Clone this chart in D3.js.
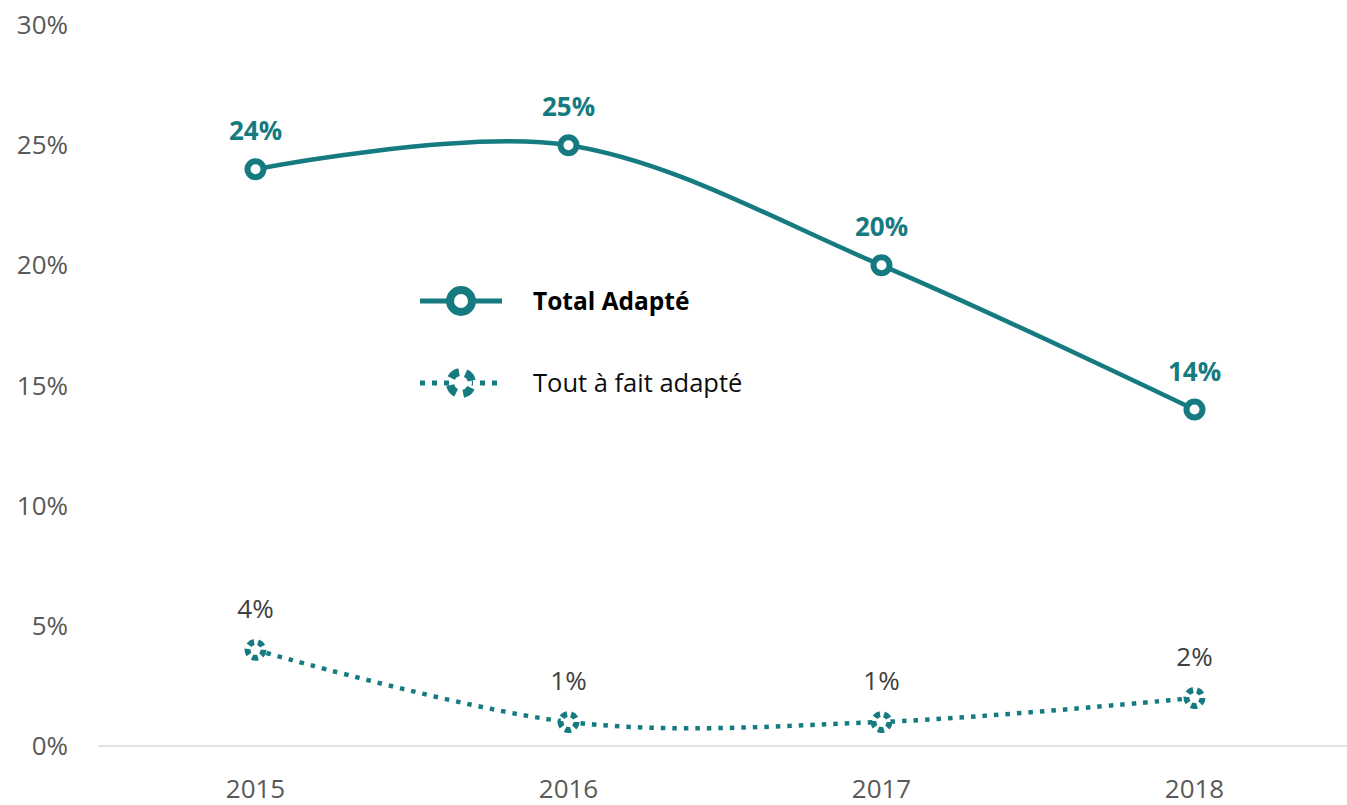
<!DOCTYPE html>
<html>
<head>
<meta charset="utf-8">
<script src="https://cdn.jsdelivr.net/npm/d3@7"></script>
<style>
  body { margin: 0; background: #fff; }
  text { font-family: "Open Sans", "Noto Sans", sans-serif; }
</style>
</head>
<body>
<svg width="1347" height="805"></svg>
<script>
var years = ['2015', '2016', '2017', '2018'];
var totalAdapte = [24, 25, 20, 14];
var toutAFait = [4, 1, 1, 2];
var yTicks = [0, 5, 10, 15, 20, 25, 30];
var teal = '#167B80';

var svg = d3.select('svg');

var x = d3.scaleBand().domain(years).range([99, 1351]);
var y = d3.scaleLinear().domain([0, 30]).range([746, 25]);
var cx = function (d, i) { return x(years[i]) + x.bandwidth() / 2; };

// axis
svg.append('line')
    .attr('x1', 98).attr('x2', 1347)
    .attr('y1', y(0)).attr('y2', y(0))
    .attr('stroke', '#d9d9d9').attr('stroke-width', 1.5);

svg.selectAll('.ytick').data(yTicks).enter().append('text')
    .attr('class', 'ytick')
    .attr('x', 68).attr('y', function (d) { return y(d) + 9; })
    .attr('text-anchor', 'end')
    .attr('font-size', 26).attr('fill', '#595959')
    .text(function (d) { return d + '%'; });

svg.selectAll('.xtick').data(years).enter().append('text')
    .attr('class', 'xtick')
    .attr('x', function (d) { return x(d) + x.bandwidth() / 2; })
    .attr('y', 798)
    .attr('text-anchor', 'middle')
    .attr('font-size', 26).attr('fill', '#595959')
    .text(function (d) { return d; });

var line = d3.line()
    .x(cx)
    .y(function (d) { return y(d); })
    .curve(d3.curveCardinal.tension(0));

// Total Adapté
svg.append('path').datum(totalAdapte)
    .attr('d', line)
    .attr('fill', 'none').attr('stroke', teal).attr('stroke-width', 4.5);

svg.selectAll('.m1').data(totalAdapte).enter().append('circle')
    .attr('class', 'm1')
    .attr('cx', cx).attr('cy', function (d) { return y(d); })
    .attr('r', 8).attr('fill', '#fff').attr('stroke', teal).attr('stroke-width', 6);

svg.selectAll('.l1').data(totalAdapte).enter().append('text')
    .attr('class', 'l1')
    .attr('x', cx).attr('y', function (d) { return y(d) - 29; })
    .attr('text-anchor', 'middle')
    .attr('font-size', 26).attr('font-weight', 'bold').attr('fill', teal)
    .text(function (d) { return d + '%'; });

// Tout à fait adapté
svg.append('path').datum(toutAFait)
    .attr('d', line)
    .attr('fill', 'none').attr('stroke', teal).attr('stroke-width', 4.5)
    .attr('stroke-dasharray', '4.5 7');

svg.selectAll('.m2').data(toutAFait).enter().append('circle')
    .attr('class', 'm2')
    .attr('cx', cx).attr('cy', function (d) { return y(d); })
    .attr('r', 8).attr('fill', '#fff').attr('stroke', teal).attr('stroke-width', 6)
    .attr('stroke-dasharray', '6 4');

svg.selectAll('.l2').data(toutAFait).enter().append('text')
    .attr('class', 'l2')
    .attr('x', cx).attr('y', function (d) { return y(d) - 32; })
    .attr('text-anchor', 'middle')
    .attr('font-size', 26).attr('fill', '#404040')
    .text(function (d) { return d + '%'; });

// legend
var legend = [
    { name: 'Total Adapté', bold: true, size: 24.5, dash: null, mdash: null },
    { name: 'Tout à fait adapté', bold: false, size: 25.5, dash: '5 7', mdash: '10 7.3' }
];
var lg = svg.selectAll('.lg').data(legend).enter().append('g')
    .attr('class', 'lg')
    .attr('transform', function (d, i) { return 'translate(420,' + (301 + i * 82) + ')'; });
lg.append('line')
    .attr('x1', 0).attr('x2', 82)
    .attr('stroke', teal).attr('stroke-width', 5)
    .attr('stroke-dasharray', function (d) { return d.dash; });
lg.append('circle')
    .attr('cx', 41).attr('r', 11)
    .attr('fill', '#fff').attr('stroke', teal).attr('stroke-width', 8)
    .attr('stroke-dasharray', function (d) { return d.mdash; })
    .attr('transform', function (d) { return d.mdash ? 'rotate(-65,41,0)' : null; });
lg.append('text')
    .attr('x', 113).attr('y', 9)
    .attr('font-size', function (d) { return d.size; })
    .attr('font-weight', function (d) { return d.bold ? 'bold' : 'normal'; })
    .attr('fill', function (d) { return d.bold ? '#000' : '#0d0d0d'; })
    .text(function (d) { return d.name; });
</script>
</body>
</html>
